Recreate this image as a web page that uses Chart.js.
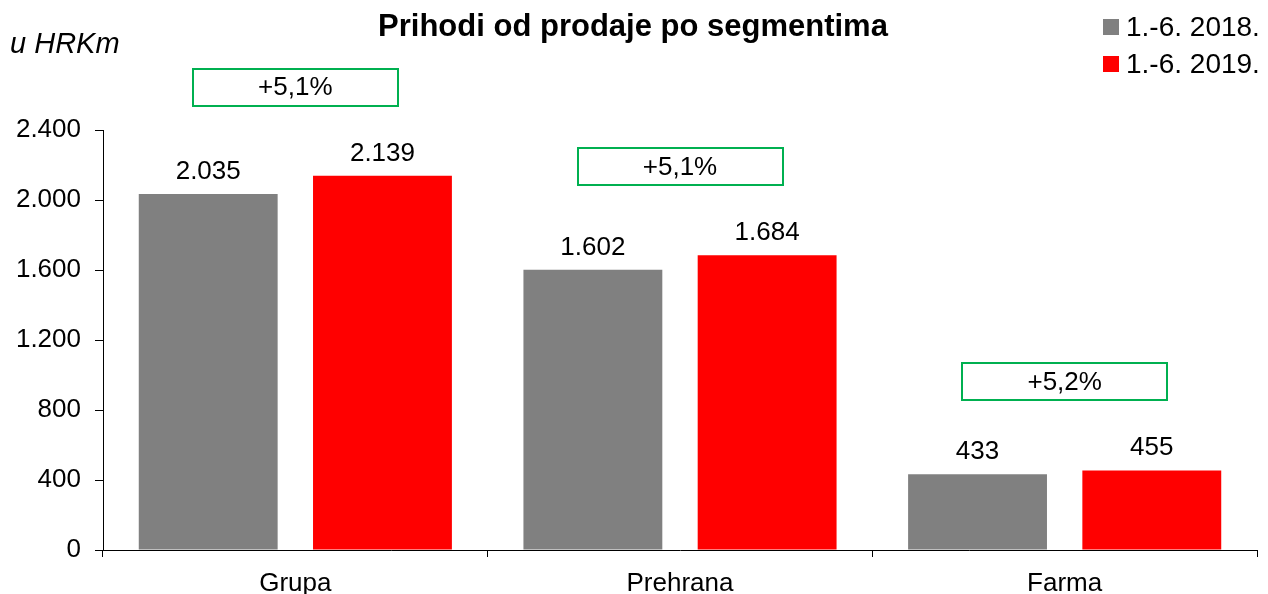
<script src="https://cdn.jsdelivr.net/npm/chart.js@4.4.7/dist/chart.umd.min.js"></script>

<style>
  html, body {
    margin: 0;
    padding: 0;
    background: #fff;
  }
  .chart-container {
    width: 1268px;
    height: 594px;
  }
</style>

<div class="chart-container">
  <canvas id="chart"></canvas>
</div>

<script>
  const FONT = '"Liberation Sans", Arial, sans-serif'

  const title = 'Prihodi od prodaje po segmentima'
  const unitLabel = 'u HRKm'
  const categories = ['Grupa', 'Prehrana', 'Farma']
  const seriesNames = ['1.-6. 2018.', '1.-6. 2019.']
  const values2018 = [2035, 1602, 433]
  const values2019 = [2139, 1684, 455]
  const growthLabels = ['+5,1%', '+5,1%', '+5,2%']
  const yTicks = [0, 400, 800, 1200, 1600, 2000, 2400]

  // 2400 -> "2.400"
  function fmt(v) {
    return String(v).replace(/\B(?=(\d{3})+(?!\d))/g, '.')
  }

  /*
   * Title, unit label, legend, value labels and growth boxes
   */
  const decorations = {
    id: 'decorations',
    afterDatasetsDraw(chart) {
      const ctx = chart.ctx
      ctx.save()

      // value labels above bars
      ctx.fillStyle = '#000'
      ctx.font = '26px ' + FONT
      ctx.textAlign = 'center'
      ctx.textBaseline = 'alphabetic'
      chart.data.datasets.forEach((ds, i) => {
        chart.getDatasetMeta(i).data.forEach((bar, j) => {
          ctx.fillText(fmt(ds.data[j]), bar.x, bar.y - 15)
        })
      })

      // growth boxes
      const xScale = chart.scales.x
      categories.forEach((c, j) => {
        const tops = chart.data.datasets.map((ds, i) => chart.getDatasetMeta(i).data[j].y)
        const top = Math.min(...tops)
        const cx = xScale.getPixelForValue(j)
        const w = 205
        const h = 37
        const bottom = top - 70
        ctx.strokeStyle = '#00b050'
        ctx.lineWidth = 2
        ctx.strokeRect(Math.round(cx - w / 2), Math.round(bottom - h), w, h)
        ctx.fillStyle = '#000'
        ctx.textBaseline = 'middle'
        ctx.fillText(growthLabels[j], cx, bottom - h / 2 + 1)
      })

      // title
      ctx.font = 'bold 31px ' + FONT
      ctx.textAlign = 'center'
      ctx.textBaseline = 'middle'
      ctx.fillText(title, 633, 27)

      // unit label
      ctx.font = 'italic 29px ' + FONT
      ctx.textAlign = 'left'
      ctx.fillText(unitLabel, 10, 45)

      // legend
      ctx.font = '28px ' + FONT
      chart.data.datasets.forEach((ds, i) => {
        const y = 27 + i * 37
        ctx.fillStyle = ds.backgroundColor
        ctx.fillRect(1103, y - 8, 16, 16)
        ctx.fillStyle = '#000'
        ctx.fillText(ds.label, 1126, y + 1)
      })

      ctx.restore()
    }
  }

  const data = {
    labels: categories,
    datasets: [
      {
        label: seriesNames[0],
        data: values2018,
        backgroundColor: '#808080'
      },
      {
        label: seriesNames[1],
        data: values2019,
        backgroundColor: '#ff0000'
      }
    ]
  }

  const config = {
    type: 'bar',
    data: data,
    plugins: [decorations],
    options: {
      responsive: true,
      maintainAspectRatio: false,
      animation: false,
      layout: {
        padding: { top: 130, right: 11, bottom: 0, left: 0 }
      },
      categoryPercentage: 0.906,
      barPercentage: 0.797,
      plugins: {
        legend: { display: false },
        title: { display: false },
        tooltip: { enabled: false }
      },
      scales: {
        x: {
          afterFit(scale) {
            scale.height = 44
          },
          grid: {
            display: true,
            drawOnChartArea: false,
            offset: true,
            tickLength: 7,
            color: '#000'
          },
          border: { color: '#000', width: 1 },
          ticks: {
            color: '#000',
            font: { family: FONT, size: 26 },
            padding: 11
          }
        },
        y: {
          min: 0,
          max: 2400,
          afterFit(scale) {
            scale.width = 103
          },
          afterBuildTicks(scale) {
            scale.ticks = yTicks.map((v) => ({ value: v }))
          },
          grid: {
            display: true,
            drawOnChartArea: false,
            tickLength: 8,
            color: '#000'
          },
          border: { color: '#000', width: 1 },
          ticks: {
            color: '#000',
            font: { family: FONT, size: 26 },
            padding: 14,
            callback: (v) => fmt(v)
          }
        }
      }
    }
  }

  const myChart = new Chart(document.getElementById('chart'), config)
</script>
